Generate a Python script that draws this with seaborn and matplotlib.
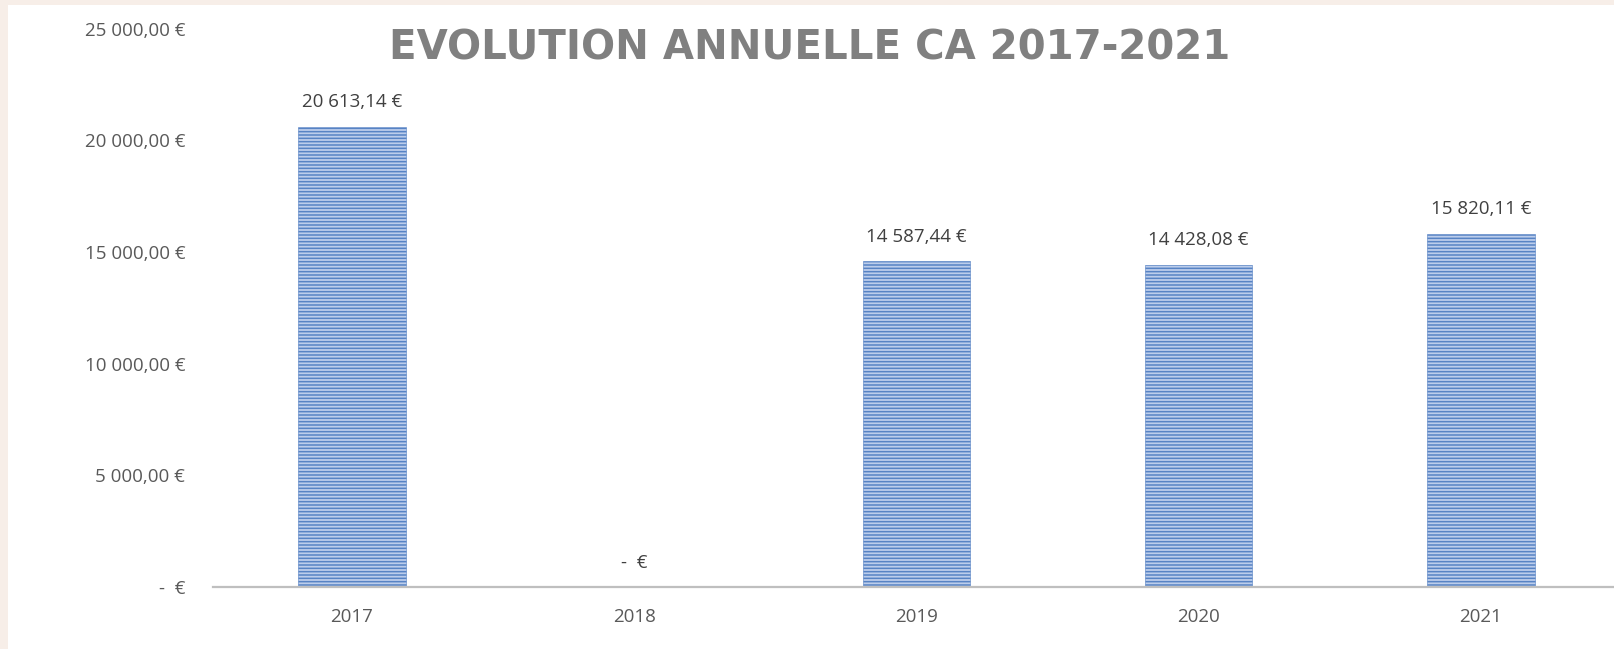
import matplotlib
matplotlib.use("Agg")
import matplotlib.pyplot as plt
import matplotlib.patches as mpatches
import seaborn as sns
from matplotlib.ticker import FuncFormatter

# data
years = ["2017", "2018", "2019", "2020", "2021"]
revenue = [20613.14, 0.0, 14587.44, 14428.08, 15820.11]
y_ticks = [0, 5000, 10000, 15000, 20000, 25000]
title = "EVOLUTION ANNUELLE CA 2017-2021"


def euro(v):
    # Excel accounting style, French locale
    if v == 0:
        return "-  €"
    return f"{v:,.2f}".replace(",", " ").replace(".", ",") + " €"


sns.set_theme(style="white")
plt.rcParams["font.family"] = ["Open Sans", "DejaVu Sans"]
plt.rcParams["hatch.linewidth"] = 1.1

W, H = 1615, 649
fig = plt.figure(figsize=(W / 100, H / 100), dpi=100)
fig.patch.set_facecolor("#F7EEE8")
# white chart area inside the beige frame
fig.patches.append(mpatches.Rectangle((8 / W, 0), 1, 1 - 5 / H, transform=fig.transFigure,
                                      facecolor="white", edgecolor="none", zorder=-10))

ax = fig.add_axes([213 / W, 62 / H, 1 - 213 / W, (587 - 28.5) / H])
ax.set_facecolor("none")

sns.barplot(x=years, y=revenue, width=0.38, color="#BCCDEB", ax=ax, saturation=1)
for p in ax.patches:
    p.set_hatch("-----")
    p.set_edgecolor("#5783C4")
    p.set_linewidth(0.4)

ax.bar_label(ax.containers[0], labels=[euro(v) for v in revenue], padding=11,
             fontsize=13.5, color="#404040")

ax.set_ylim(0, 25000)
ax.set_xlim(-0.4925, 4.475)
ax.set_yticks(y_ticks)
ax.yaxis.set_major_formatter(FuncFormatter(lambda v, pos: euro(v)))
ax.tick_params(axis="y", length=0, pad=20, labelsize=13.5, labelcolor="#595959")
ax.tick_params(axis="x", length=0, pad=15, labelsize=13.5, labelcolor="#595959")
ax.set_xlabel("")
ax.set_ylabel("")

for s in ["top", "right", "left"]:
    ax.spines[s].set_visible(False)
ax.spines["bottom"].set_color("#BFBFBF")
ax.spines["bottom"].set_linewidth(1.6)

fig.text(810 / W, 1 - 49 / H, title, ha="center", va="center", fontsize=29,
         fontweight="bold", color="#808080", family="DejaVu Sans")

fig.savefig("out.png", dpi=100, facecolor=fig.get_facecolor())
